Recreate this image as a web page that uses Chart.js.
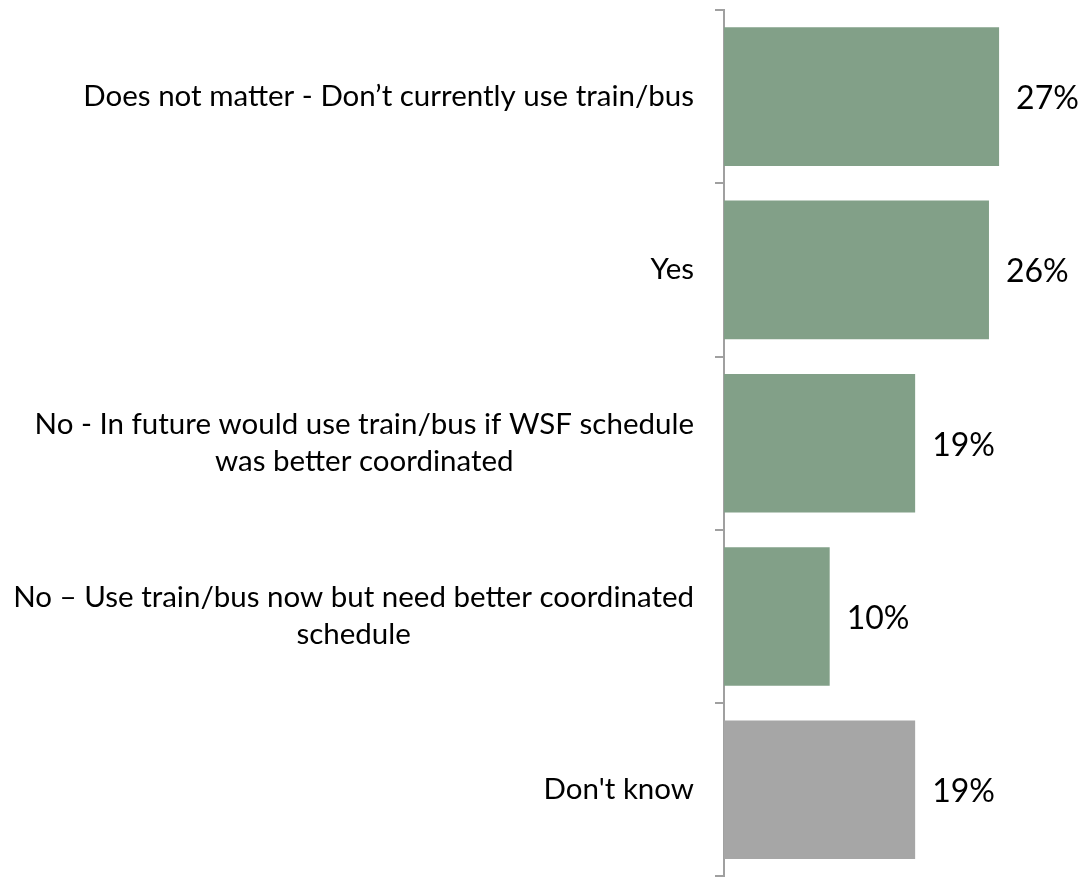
<!DOCTYPE html>
<html>
<head>
<meta charset="utf-8">
<script src="https://cdn.jsdelivr.net/npm/chart.js@4"></script>
<style>
  html, body { margin: 0; padding: 0; background: #fff; }
  #wrap { width: 1081px; height: 877px; position: relative; }
</style>
</head>
<body>
<div id="wrap"><canvas id="chart"></canvas></div>
<script>
/* ── Data ── */
const categories = [
  ['Does not matter - Don\u2019t currently use train/bus'],
  ['Yes'],
  ['No - In future would use train/bus if WSF schedule', 'was better coordinated'],
  ['No \u2013 Use train/bus now but need better coordinated', 'schedule'],
  ['Don\'t know'],
];
const values = [27.2, 26.2, 18.9, 10.45, 18.9];
const valueLabels = ['27%', '26%', '19%', '10%', '19%'];
const barColors = ['#82a088', '#82a088', '#82a088', '#82a088', '#a6a6a6'];

/* ── Styles ── */
const FONT_FAMILY = 'Lato, "Open Sans", sans-serif';
const CAT_FONT = '29.5px ' + FONT_FAMILY;
const VAL_FONT = '32px ' + FONT_FAMILY;
const LINE_H = 37;
const AXIS_COLOR = '#a0a0a0';

/* Category labels: block right-aligned, lines centred within the block */
const catLabels = {
  id: 'catLabels',
  afterDraw(chart) {
    const ctx = chart.ctx;
    const y = chart.scales.y;
    const rightX = y.right - 30;
    ctx.save();
    ctx.font = CAT_FONT;
    ctx.fillStyle = '#000';
    ctx.textBaseline = 'middle';
    ctx.textAlign = 'center';
    categories.forEach((lines, i) => {
      const cy = y.getPixelForTick(i);
      const widest = Math.max(...lines.map(l => ctx.measureText(l).width));
      const cx = rightX - widest / 2;
      const top = cy - (lines.length - 1) * LINE_H / 2;
      lines.forEach((l, k) => ctx.fillText(l, cx, top + k * LINE_H));
    });
    ctx.restore();
  },
};

/* Value labels at the end of each bar */
const valLabels = {
  id: 'valLabels',
  afterDatasetsDraw(chart) {
    const ctx = chart.ctx;
    const meta = chart.getDatasetMeta(0);
    ctx.save();
    ctx.font = VAL_FONT;
    ctx.fillStyle = '#000';
    ctx.textBaseline = 'middle';
    ctx.textAlign = 'left';
    meta.data.forEach((bar, i) => {
      ctx.fillText(valueLabels[i], bar.x + 17, bar.y + 2);
    });
    ctx.restore();
  },
};

new Chart(document.getElementById('chart'), {
  type: 'bar',
  data: {
    labels: categories,
    datasets: [{
      data: values,
      backgroundColor: barColors,
      borderWidth: 0,
      barPercentage: 0.8,
      categoryPercentage: 1,
    }],
  },
  options: {
    indexAxis: 'y',
    responsive: true,
    maintainAspectRatio: false,
    animation: false,
    layout: { padding: { top: 10, right: 0, bottom: 0, left: 0 } },
    plugins: {
      legend: { display: false },
      tooltip: { enabled: false },
    },
    scales: {
      x: {
        display: false,
        min: 0,
        max: 35.3,
      },
      y: {
        grid: {
          drawOnChartArea: false,
          drawTicks: true,
          tickLength: 9,
          color: AXIS_COLOR,
          lineWidth: 2,
        },
        border: { color: AXIS_COLOR, width: 2 },
        ticks: { callback: () => '', padding: 0, font: { size: 1 } },
        afterFit: s => { s.width = 724; },
      },
    },
  },
  plugins: [catLabels, valLabels],
});
</script>
</body>
</html>
